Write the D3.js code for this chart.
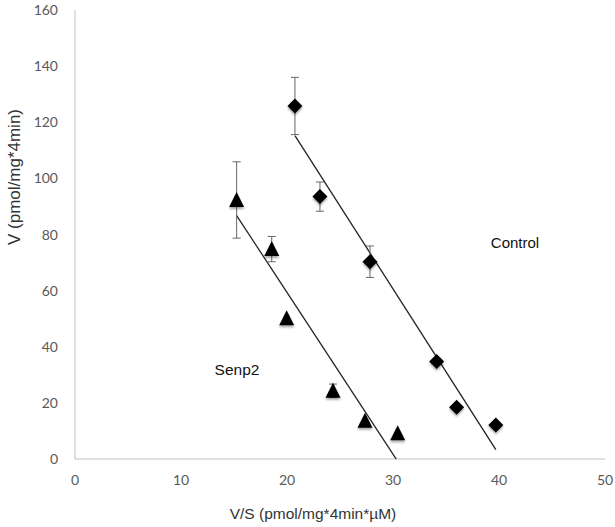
<!DOCTYPE html>
<html>
<head>
<meta charset="utf-8">
<script src="https://cdn.jsdelivr.net/npm/d3@7"></script>
<style>
  body { margin: 0; background: #fff; }
  text { font-family: "Liberation Sans", Arial, sans-serif; }
</style>
</head>
<body>
<svg id="chart" width="615" height="527"></svg>
<script>
// values
let senp2X = [15.25, 18.56, 19.97, 24.34, 27.36, 30.44];
let senp2Y = [92.3, 74.8, 50.2, 24.3, 13.6, 9.2];
let senp2Err = [13.6, 4.5, 0, 2.4, 0, 0];

let controlX = [20.75, 23.11, 27.83, 34.12, 36.0, 39.7];
let controlY = [125.8, 93.5, 70.3, 34.7, 18.4, 12.1];
let controlErr = [10.2, 5.2, 5.6, 0, 0, 0];

let xTicks = [0, 10, 20, 30, 40, 50];
let yTicks = [0, 20, 40, 60, 80, 100, 120, 140, 160];

let svg = d3.select("#chart");

let x = d3.scaleLinear().domain([0, 50]).range([75, 605]);
let y = d3.scaleLinear().domain([0, 160]).range([459, 10]);

// soft shadow under the markers
let defs = svg.append("defs");
defs.append("filter").attr("id", "shadow")
  .attr("x", "-50%").attr("y", "-50%").attr("width", "200%").attr("height", "200%")
  .append("feDropShadow")
  .attr("dx", 0).attr("dy", 2)
  .attr("stdDeviation", 1.3)
  .attr("flood-color", "#000")
  .attr("flood-opacity", 0.35);
defs.append("clipPath").attr("id", "plot")
  .append("rect").attr("x", 75).attr("y", 10).attr("width", 530).attr("height", 449);

// axes (gray lines, no ticks)
svg.append("line")
  .attr("x1", x(0)).attr("x2", x(0)).attr("y1", y(160)).attr("y2", y(0))
  .style("stroke", "#c0c0c0").style("stroke-width", 1);
svg.append("line")
  .attr("x1", x(0)).attr("x2", x(50)).attr("y1", y(0)).attr("y2", y(0))
  .style("stroke", "#c0c0c0").style("stroke-width", 1);

svg.selectAll(".ytick")
  .data(yTicks)
  .enter()
  .append("text")
  .attr("class", "ytick")
  .attr("x", 58)
  .attr("y", d => y(d) + 5)
  .attr("text-anchor", "end")
  .style("font-family", "Lato, 'Open Sans', sans-serif")
  .style("font-size", "14px")
  .style("fill", "#595959")
  .text(d => d);

svg.selectAll(".xtick")
  .data(xTicks)
  .enter()
  .append("text")
  .attr("class", "xtick")
  .attr("x", d => x(d))
  .attr("y", 485)
  .attr("text-anchor", "middle")
  .style("font-family", "Lato, 'Open Sans', sans-serif")
  .style("font-size", "14px")
  .style("fill", "#595959")
  .text(d => d);

svg.append("text")
  .attr("transform", "translate(20,177) rotate(-90)")
  .attr("text-anchor", "middle")
  .style("font-size", "17px")
  .style("fill", "#333")
  .text("V (pmol/mg*4min)");

svg.append("text")
  .attr("x", 313)
  .attr("y", 519)
  .attr("text-anchor", "middle")
  .style("font-size", "15.5px")
  .style("fill", "#333")
  .text("V/S (pmol/mg*4min*µM)");

// least squares trendline over the data range
function trend(xs, ys){
  let mx = d3.mean(xs), my = d3.mean(ys);
  let sxy = d3.sum(xs, (v, i) => (v - mx) * (ys[i] - my));
  let sxx = d3.sum(xs, v => (v - mx) * (v - mx));
  let b = sxy / sxx, a = my - b * mx;
  let x0 = d3.min(xs), x1 = d3.max(xs);
  return [[x0, a + b * x0], [x1, a + b * x1]];
}

function drawSeries(xs, ys, errs, shape){
  let pts = xs.map((v, i) => ({x: v, y: ys[i], e: errs[i]}));
  let g = svg.append("g");

  g.append("path")
    .attr("clip-path", "url(#plot)")
    .attr("d", d3.line().x(d => x(d[0])).y(d => y(d[1]))(trend(xs, ys)))
    .style("fill", "none")
    .style("stroke", "#222")
    .style("stroke-width", 1.3);

  let bars = g.selectAll(".err")
    .data(pts.filter(d => d.e > 0))
    .enter()
    .append("g")
    .style("stroke", "#666")
    .style("stroke-width", 1);
  bars.append("line")
    .attr("x1", d => x(d.x)).attr("x2", d => x(d.x))
    .attr("y1", d => y(d.y + d.e)).attr("y2", d => y(d.y - d.e));
  bars.append("line")
    .attr("x1", d => x(d.x) - 4).attr("x2", d => x(d.x) + 4)
    .attr("y1", d => y(d.y + d.e)).attr("y2", d => y(d.y + d.e));
  bars.append("line")
    .attr("x1", d => x(d.x) - 4).attr("x2", d => x(d.x) + 4)
    .attr("y1", d => y(d.y - d.e)).attr("y2", d => y(d.y - d.e));

  g.selectAll(".marker")
    .data(pts)
    .enter()
    .append("path")
    .attr("transform", d => "translate(" + x(d.x) + "," + y(d.y) + ")")
    .attr("d", shape)
    .attr("filter", "url(#shadow)")
    .style("fill", "#000");
}

drawSeries(senp2X, senp2Y, senp2Err, "M0,-8L7.5,7L-7.5,7Z");
drawSeries(controlX, controlY, controlErr, "M0,-7.5L7.5,0L0,7.5L-7.5,0Z");

svg.append("text")
  .attr("x", 515).attr("y", 248)
  .attr("text-anchor", "middle")
  .style("font-size", "15px")
  .style("fill", "#111")
  .text("Control");

svg.append("text")
  .attr("x", 237).attr("y", 375)
  .attr("text-anchor", "middle")
  .style("font-size", "15.5px")
  .style("fill", "#111")
  .text("Senp2");
</script>
</body>
</html>
